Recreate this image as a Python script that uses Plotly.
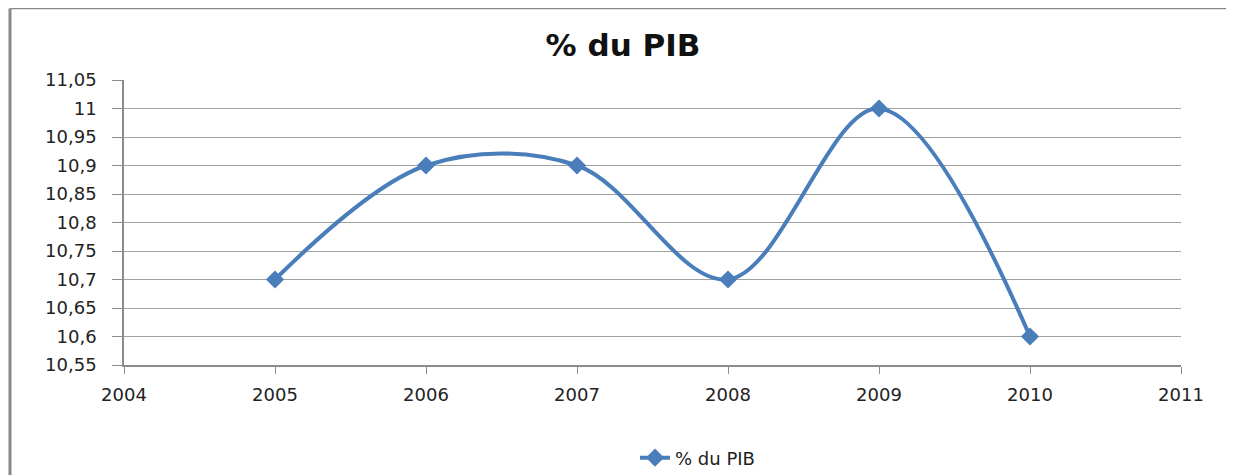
import plotly.graph_objects as go

years = [2005, 2006, 2007, 2008, 2009, 2010]
pib = [10.7, 10.9, 10.9, 10.7, 11.0, 10.6]

y_tickvals = [10.55, 10.6, 10.65, 10.7, 10.75, 10.8, 10.85, 10.9, 10.95, 11.0, 11.05]
y_ticktext = ["10,55", "10,6", "10,65", "10,7", "10,75", "10,8", "10,85", "10,9", "10,95", "11", "11,05"]
x_tickvals = [2004, 2005, 2006, 2007, 2008, 2009, 2010, 2011]

blue = "#4A7EBB"
gray = "#8C8C8C"
font = "DejaVu Sans"

fig = go.Figure()
fig.add_trace(go.Scatter(
    x=years, y=pib, name="% du PIB", mode="lines+markers",
    line=dict(color=blue, width=4, shape="spline", smoothing=1.0),
    marker=dict(symbol="diamond", size=14, color=blue),
))

# page body has an 8px margin; figure coords = page coords - 8
W, H = 1226, 467
L, R, T, B = 116, 1173, 72, 357
pw, ph = R - L, B - T

fig.update_layout(
    width=W, height=H,
    margin=dict(l=L, r=W - R, t=T, b=H - B, autoexpand=False),
    plot_bgcolor="white", paper_bgcolor="white",
    font=dict(family=font, size=18, color="#222"),
    title=dict(text="<b>% du PIB</b>", x=(615 - L) / pw, xref="paper", xanchor="center",
               y=1 - 37 / H, yref="container", yanchor="middle",
               font=dict(family=font, size=31, color="#111")),
    showlegend=True,
    legend=dict(orientation="h", x=(627 - L) / pw, xanchor="left",
                y=(B - 450) / ph, yanchor="middle", font=dict(family=font, size=18)),
    xaxis=dict(range=[2004, 2011], tickvals=x_tickvals, showgrid=False,
               showline=True, linecolor=gray, linewidth=1.5,
               ticks="outside", ticklen=7, tickcolor=gray, ticklabelstandoff=6,
               zeroline=False),
    yaxis=dict(range=[10.55, 11.05], tickvals=y_tickvals, ticktext=y_ticktext,
               showgrid=True, gridcolor="#A0A0A0", gridwidth=1.2,
               showline=True, linecolor=gray, linewidth=1.5,
               ticks="outside", ticklen=10, tickcolor=gray, ticklabelstandoff=12,
               zeroline=False),
)

# Chart frame (left and top border)
fig.add_shape(type="line", xref="paper", yref="paper",
              x0=(2 - L) / pw, x1=(2 - L) / pw, y0=(B - H - 5) / ph, y1=1 + (T - 0.5) / ph,
              line=dict(color="#888", width=3))
fig.add_shape(type="line", xref="paper", yref="paper",
              x0=(2 - L) / pw, x1=(W + 5 - L) / pw, y0=1 + (T - 0.5) / ph, y1=1 + (T - 0.5) / ph,
              line=dict(color="#888", width=1.5))

fig.write_html("out.html")
